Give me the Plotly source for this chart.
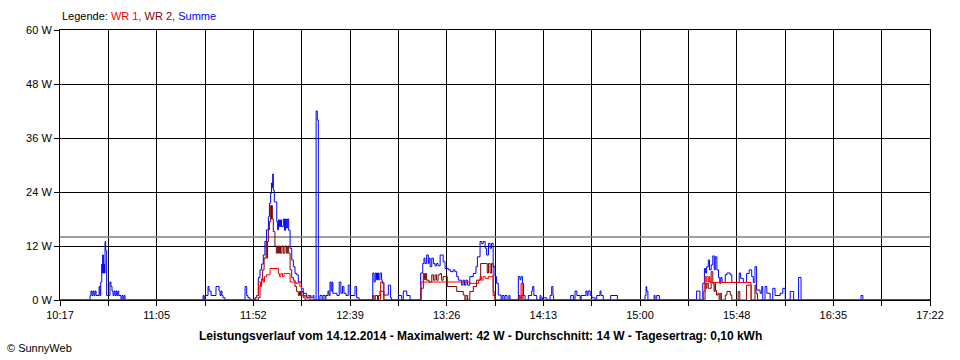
import plotly.graph_objects as go

# Time axis: minutes after 10:17 (chart spans 10:17 .. 17:22 = 425 minutes)
SPAN_MIN = 425
x_labels = ["10:17", "11:05", "11:52", "12:39", "13:26", "14:13", "15:00", "15:48", "16:35", "17:22"]
y_ticks = [0, 12, 24, 36, 48, 60]
y_labels = ["0 W", "12 W", "24 W", "36 W", "48 W", "60 W"]
avg_w = 14  # Durchschnitt

# Summe (blue) - step changes: time (min after 10:17), watts
sum_t = [0.0, 14.7, 15.1, 15.6, 16.1, 16.6, 17.1, 17.6, 19.1, 19.5, 19.9, 20.4, 20.6, 20.8, 21.2, 21.5, 21.7,
         22.0, 22.3, 22.8, 24.4, 24.9, 25.4, 25.9, 26.4, 26.9, 27.4, 27.8, 28.3, 28.7, 29.8, 30.3, 30.8, 31.3, 31.8,
         69.9, 70.3, 70.8, 72.3, 72.8, 73.8, 76.2, 77.7, 78.2, 78.7, 79.1, 79.6, 80.6,
         90.4, 91.2, 91.8, 92.8,
         95.3, 96.1, 96.9, 97.7, 98.5, 99.3, 100.1, 100.9, 101.8, 102.3, 102.9, 103.3, 103.7, 103.9, 104.2, 104.7,
         105.9, 106.3, 106.7, 107.2, 107.7, 108.2, 109.1, 109.7, 110.2, 110.7, 111.2, 111.7, 112.4, 113.2, 114.0,
         114.8, 115.6, 116.4, 118.0, 118.8, 120.5, 122.1, 122.6, 123.6, 124.1, 125.1, 125.7, 126.2, 127.0, 128.0,
         128.5, 129.5, 129.9, 130.9, 131.4, 131.9, 132.4, 132.9, 133.3, 135.3, 136.4, 137.2, 138.0, 138.7, 139.7,
         140.8, 141.7, 144.1, 144.9, 146.1,
         152.8, 153.4, 154.0, 154.6, 155.1, 155.6, 156.3, 157.1, 157.4, 158.2, 160.4, 161.5, 162.0, 165.3, 166.9,
         167.7, 169.4, 171.0,
         176.2, 177.2, 177.8, 178.3, 179.1, 179.9, 180.3, 180.8, 181.6, 182.4, 183.2, 183.9, 184.7, 185.7, 187.2,
         188.1, 189.7, 190.8, 192.1, 192.9, 193.8, 194.6, 196.2, 196.9, 197.6, 198.3, 199.1, 200.2, 201.9, 203.2,
         203.9, 205.2, 206.0, 206.7, 207.7, 208.4, 209.3, 210.1, 210.8, 211.6, 212.5, 213.3, 214.1, 215.5, 216.0,
         216.9, 217.4, 218.4, 219.3, 219.8,
         223.9, 224.7, 225.2, 225.9, 226.4, 227.2, 228.8, 230.4, 230.9, 231.5, 232.9, 234.5, 235.0, 235.6, 237.8,
         239.4, 240.2, 240.8, 241.1, 249.5, 250.8, 251.6, 252.5, 254.1, 254.6, 256.9, 257.5, 258.0, 259.0, 259.8,
         261.4, 262.2, 263.8, 264.3, 265.4, 269.0, 272.3, 285.8, 286.3, 286.6, 287.2, 290.2, 290.7, 291.5, 292.8,
         311.0, 312.6, 314.0, 314.8, 315.4, 315.9, 316.7, 317.3, 318.1, 318.9, 319.6, 320.1, 320.9, 321.7, 322.3,
         322.8, 323.4, 325.0, 325.8, 327.4, 328.2, 331.8, 332.5, 333.8, 335.4, 336.7, 337.9, 338.7, 339.5, 340.3,
         342.0, 342.8, 343.3, 344.4, 345.3, 346.9, 348.2, 349.3, 351.8, 353.1, 354.3, 356.7, 358.4, 360.8, 362.0,
         391.3, 392.2, 425.0]
sum_w = [0, 1, 2, 1, 2, 1, 2, 1, 3, 1, 4, 8, 6, 10, 6, 8, 6,
         13, 11, 1, 4, 3, 2, 1, 2, 1, 2, 1, 2, 1, 0, 1, 0, 1, 0,
         1, 0, 1, 3, 2, 1, 3, 2, 1, 2, 1, 0.5, 0,
         3, 1, 0.5, 0,
         0.5, 1, 5, 6.7, 8, 10, 13, 15.6, 18.5, 21.5, 23.7, 26, 25, 28, 24.4, 21.8,
         17.4, 15.6, 17.8, 16.3, 17.8, 16.3, 18, 15.5, 18, 16, 18, 15.5, 11.5, 8.9, 7.4,
         5.9, 5.6, 4, 2.6, 1.5, 0.5, 1, 0.5, 1, 0, 42, 40, 0, 1, 0,
         1, 0, 1, 2, 1, 4, 2, 4, 1.5, 1, 4, 1.5, 3, 1.5, 1,
         3.3, 1, 3, 0.5, 0,
         6, 4, 6, 4.5, 6, 4.5, 6, 4.5, 3.7, 1.1, 3.3, 0.5, 0, 1, 0,
         2, 1, 0,
         6, 8.1, 9.3, 8.1, 10, 8.1, 9.3, 7.4, 9.3, 8.1, 7.6, 8.1, 7.6, 10, 8.5,
         7, 6.7, 6.3, 6.7, 6.3, 5.2, 4.4, 3.3, 4.4, 3.3, 4.4, 3.3, 5.2, 5.9, 7.4,
         9.6, 13, 12.5, 13, 11.5, 10, 12.6, 11.5, 12.6, 7.4, 5.2, 3.7, 1.1, 0, 1,
         0, 1, 0, 1, 0,
         5.2, 4.5, 5.2, 3.7, 1, 0, 1, 2, 3, 1, 0, 1, 0, 0.5, 0,
         1, 3, 1, 0, 1, 0, 2, 1, 0, 1, 2, 1, 2, 1, 0.5,
         0, 1, 2, 1, 0, 1, 0, 1, 3, 2, 0, 1, 0, 1, 0,
         2, 0, 3.7, 7, 6, 7.4, 8.9, 6.7, 7.8, 9.8, 6.7, 9.6, 6.7, 5, 3.7,
         5, 3.9, 5.6, 6, 5.6, 3.9, 6, 4.8, 3.9, 5.9, 6.7, 5.2, 3.9, 7.4, 2.2,
         1.5, 3, 0, 3, 1.5, 0, 2.6, 1, 1.5, 2.6, 0, 1.9, 0, 5, 0,
         1, 0, 0]

# WR 2 (dark red)
wr2_t = [0.0, 96.9, 97.7, 98.5, 99.0, 99.7, 100.7, 101.1, 101.4, 101.8, 102.3, 102.9, 103.3, 103.5, 103.7, 104.2,
         105.0, 105.7, 106.2, 106.7, 107.2, 107.7, 108.4, 109.1, 109.9, 110.7, 111.2, 111.7, 112.4, 113.2, 114.0,
         114.8, 115.6, 116.4, 117.0, 117.5, 118.1, 118.9, 119.7,
         152.8, 153.4, 154.0, 155.1, 155.6, 156.3, 157.4, 158.2,
         176.4, 177.5, 178.1, 178.6, 179.1, 180.3, 181.6, 182.4, 183.2, 183.9, 184.7, 185.7, 186.4, 187.2, 189.2,
         193.8, 197.0, 197.8, 198.3, 199.1, 200.2, 201.9, 203.5, 205.5, 208.7, 209.3, 210.1, 210.8, 211.6, 212.1,
         212.5,
         224.2, 224.7, 225.2, 226.2,
         315.1, 315.6, 316.0, 316.7, 318.1, 318.9, 319.5, 320.0, 320.2, 320.7, 321.4, 322.0, 322.5, 323.1, 325.0,
         325.8, 327.4, 328.2, 331.3, 332.1, 335.4, 337.6, 339.5, 340.0, 340.7, 425.0]
wr2_w = [0, 0.5, 3.3, 4.4, 6.7, 9.3, 13, 9.3, 13, 15.6, 17.4, 21, 18, 21, 18, 15.2,
         12, 10.4, 12, 10.4, 12, 10.4, 12, 10.4, 12, 10.4, 12, 10.4, 6.7, 5, 4.4,
         3, 1.9, 1, 1.9, 1, 1.9, 1, 0,
         1, 0, 1, 0, 1, 2, 1.9, 0,
         2.6, 5.9, 4.5, 5.9, 4.4, 4, 5.6, 4.4, 5.6, 4.4, 5.6, 5.9, 4.4, 5.2, 3,
         1.9, 1.1, 0, 1, 0, 1.9, 3, 4.4, 8.1, 6, 8.1, 6, 8.1, 1.9, 1,
         0,
         1, 0, 1, 0,
         3.7, 2.6, 3.7, 2.6, 6.3, 3.7, 1.9, 3.7, 2.2, 1.1, 1.5, 0, 1.5, 0, 1.1,
         1.9, 1.1, 0, 1.9, 0, 3.3, 0, 3.3, 1.5, 0, 0]

# WR 1 (red)
wr1_t = [0.0, 95.3, 96.1, 96.9, 98.0, 98.5, 99.3, 99.9, 100.9, 102.6, 106.7, 107.2, 107.9, 108.7, 109.4, 112.4,
         115.3, 116.4, 117.2, 118.0, 118.8, 119.1, 120.5, 121.1, 122.1,
         156.6, 158.2,
         176.4, 200.2, 204.4, 205.2, 206.0, 206.7, 207.7, 209.3, 211.6, 212.5,
         225.2, 225.8,
         314.3, 315.1, 315.6, 316.0, 316.7, 317.2, 317.5, 337.6, 425.0]
wr1_w = [0, 0.5, 1, 4, 3, 4.8, 4, 5.2, 5.6, 7, 5.9, 5.2, 5.9, 5.2, 5.9, 4,
         3.7, 4, 3, 1, 0.5, 1, 0.5, 1, 0,
         4, 0,
         4, 3.7, 4.4, 5.2, 4.4, 5.2, 4.8, 5.2, 1, 0,
         3.7, 0,
         1.9, 5.2, 4, 5.2, 4, 5.2, 3.9, 0, 0]

n_grid = 18
grid_vals = [i * SPAN_MIN / n_grid for i in range(n_grid + 1)]
grid_text = [x_labels[i // 2] if i % 2 == 0 else "" for i in range(n_grid + 1)]

fig = go.Figure()
fig.add_trace(go.Scatter(x=[0, SPAN_MIN], y=[avg_w, avg_w], mode="lines",
                         line=dict(color="#808080", width=1.5), hoverinfo="skip"))
fig.add_trace(go.Scatter(x=sum_t, y=sum_w, mode="lines", name="Summe",
                         line=dict(color="#0000ff", width=1, shape="hv")))
fig.add_trace(go.Scatter(x=wr2_t, y=wr2_w, mode="lines", name="WR 2",
                         line=dict(color="#800000", width=1, shape="hv")))
fig.add_trace(go.Scatter(x=wr1_t, y=wr1_w, mode="lines", name="WR 1",
                         line=dict(color="#ff0000", width=1, shape="hv")))

fig.update_layout(
    width=960, height=360,
    margin=dict(l=60, r=30, t=30, b=60),
    paper_bgcolor="white", plot_bgcolor="white",
    showlegend=False,
    font=dict(family="Liberation Sans, Arial, sans-serif", size=11, color="black"),
)
fig.update_xaxes(range=[0, SPAN_MIN], tickmode="array", tickvals=grid_vals, ticktext=grid_text,
                 showgrid=True, gridcolor="black", gridwidth=1, zeroline=False,
                 ticks="outside", ticklen=5, tickwidth=1, tickcolor="black",
                 showline=True, linecolor="black", linewidth=1, mirror=True,
                 tickfont=dict(size=11, color="black"))
fig.update_yaxes(range=[0, 60], tickmode="array", tickvals=y_ticks, ticktext=y_labels,
                 showgrid=True, gridcolor="black", gridwidth=1, zeroline=False,
                 ticks="outside", ticklen=5, tickwidth=1, tickcolor="black",
                 showline=True, linecolor="black", linewidth=1, mirror=True,
                 tickfont=dict(size=11, color="black"))

fig.add_annotation(xref="paper", yref="paper", x=0.0, y=1.052, xanchor="left", yanchor="middle",
                   showarrow=False, font=dict(size=11),
                   text="Legende: <span style='color:#ff0000'>WR 1, </span>"
                        "<span style='color:#800000'>WR 2, </span>"
                        "<span style='color:#0000ff'>Summe</span>")
fig.add_annotation(xref="paper", yref="paper", x=0.4828, y=-0.1333, xanchor="center", yanchor="middle",
                   showarrow=False, font=dict(size=12, color="black"),
                   text="<b>Leistungsverlauf vom 14.12.2014 - Maximalwert: 42 W - Durchschnitt: 14 W - "
                        "Tagesertrag: 0,10 kWh</b>")
fig.add_annotation(xref="paper", yref="paper", x=-0.0632, y=-0.178, xanchor="left", yanchor="middle",
                   showarrow=False, font=dict(size=11, color="black"),
                   text="© SunnyWeb")

fig.write_html("out.html", config={"displayModeBar": False},
               post_script="document.body.style.margin='0px';")
